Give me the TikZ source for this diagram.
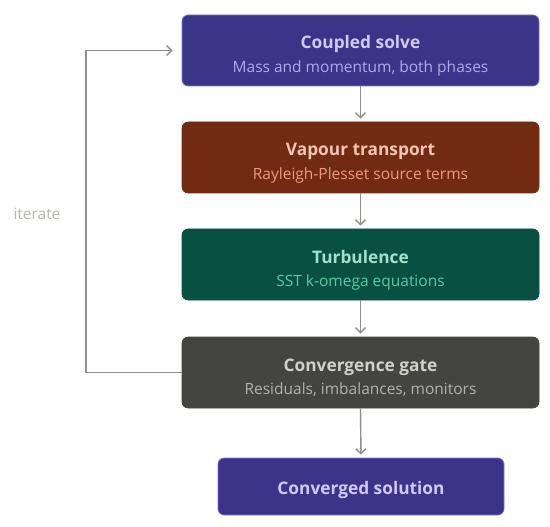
\documentclass[tikz,border=0pt]{standalone}
\usepackage{fontspec}
\setmainfont{Open Sans}
\usetikzlibrary{arrows.meta}
\definecolor{pfill}{HTML}{3C3489}\definecolor{pline}{HTML}{7F77DD}\definecolor{ptitle}{HTML}{CECBF6}\definecolor{psub}{HTML}{AFA9EC}
\definecolor{cfill}{HTML}{712B13}\definecolor{cline}{HTML}{D85A30}\definecolor{ctitle}{HTML}{F5C4B3}\definecolor{csub}{HTML}{F0997B}
\definecolor{tfill}{HTML}{085041}\definecolor{tline}{HTML}{1D9E75}\definecolor{ttitle}{HTML}{9FE1CB}\definecolor{tsub}{HTML}{5DCAA5}
\definecolor{gfill}{HTML}{444441}\definecolor{gline}{HTML}{888780}\definecolor{gtitle}{HTML}{D3D1C7}\definecolor{gsub}{HTML}{B4B2A9}
\definecolor{conn}{HTML}{8F8E88}\definecolor{itc}{HTML}{B8B6AE}
\tikzset{
  box/.style={draw, line width=0.6pt, rounded corners=6pt, minimum width=357pt, minimum height=71pt, inner sep=0pt},
  ttl/.style={font=\fontsize{17.3}{20}\selectfont\bfseries, inner sep=0pt, anchor=base},
  sub/.style={font=\fontsize{15.5}{18}\selectfont, inner sep=0pt, anchor=base},
  flow/.style={draw=conn, line width=1.4pt, -{Straight Barb[length=5pt,width=10pt,line width=1.4pt]}, shorten >=3pt},
}
\begin{document}
\begin{tikzpicture}[x=1pt,y=-1pt]
\useasboundingbox (0,0) rectangle (550,527);
\fill[white] (0,0) rectangle (550,527);
\node[box, fill=pfill, draw=pline] (cs) at (360.5,50.5) {};
\node[ttl, text=ptitle] (cst) at (360.5,49) {Coupled solve};
\node[sub, text=psub] (css) at (360.5,72.5) {Mass and momentum, both phases};
\node[box, fill=cfill, draw=cfill] (vt) at (360.5,157.5) {};
\node[ttl, text=ctitle] (vtt) at (360.5,156) {Vapour transport};
\node[sub, text=csub] (vts) at (360.5,179.5) {Rayleigh-Plesset source terms};
\node[box, fill=tfill, draw=tfill] (tu) at (360.5,264.5) {};
\node[ttl, text=ttitle] (tut) at (360.5,263) {Turbulence};
\node[sub, text=tsub] (tus) at (360.5,286.5) {SST k-omega equations};
\node[box, fill=gfill, draw=gfill] (cg) at (360.5,372.5) {};
\node[ttl, text=gtitle] (cgt) at (360.5,371) {Convergence gate};
\node[sub, text=gsub] (cgs) at (360.5,394.5) {Residuals, imbalances, monitors};
\node[box, fill=pfill, draw=pline, minimum width=286pt, minimum height=57pt] (so) at (361,486.5) {};
\node[ttl, text=ptitle] (sot) at (361,494) {Converged solution};
\node[sub, text=itc] (it) at (37,219) {iterate};
\coordinate (lc) at (86,372.5);
\draw[flow] (cs.south) -- (vt.north);
\draw[flow] (vt.south) -- (tu.north);
\draw[flow] (tu.south) -- (cg.north);
\draw[flow] (cg.south) -- (so.north);
\draw[flow, shorten >=9pt] (cg.west) -- (lc) |- (cs.west);
\end{tikzpicture}
\end{document}
